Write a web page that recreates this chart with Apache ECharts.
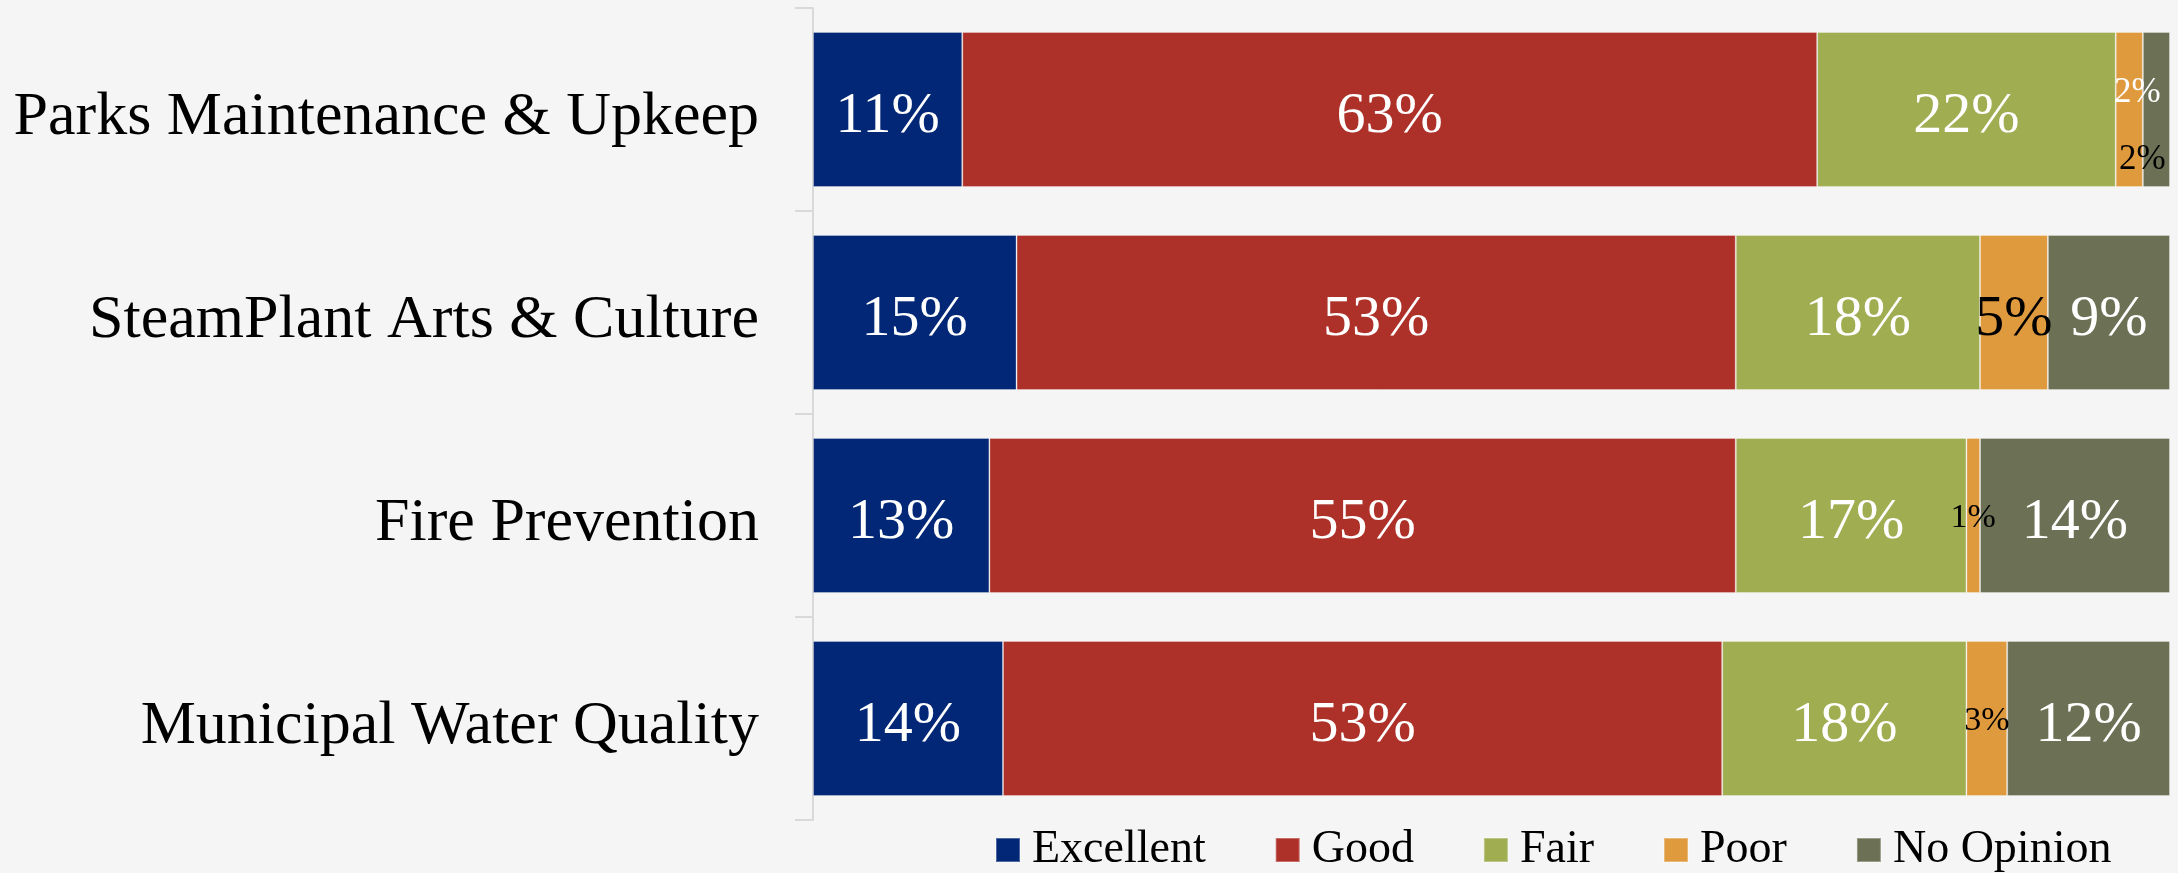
<!DOCTYPE html>
<html>
<head>
<meta charset="utf-8">
<title>City services ratings</title>
<script src="https://cdn.jsdelivr.net/npm/echarts@6/dist/echarts.min.js"></script>
<style>
    html,body{margin:0;padding:0;background:#f5f5f5;}
    #main{width:2178px;height:873px;}
</style>
</head>
<body>
<div id="main"></div>
<script>
// data (percent)
var categories = ['Parks Maintenance & Upkeep', 'SteamPlant Arts & Culture', 'Fire Prevention', 'Municipal Water Quality'];
var seriesNames = ['Excellent', 'Good', 'Fair', 'Poor', 'No Opinion'];
var excellent = [11, 15, 13, 14];
var good = [63, 53, 55, 53];
var fair = [22, 18, 17, 18];
var poor = [2, 5, 1, 3];
var noOpinion = [2, 9, 14, 12];

var colors = ['#012776', '#ae3129', '#a0ad50', '#e09a3e', '#6c7155'];
var fontName = '"Liberation Serif", "DejaVu Serif", serif';

// labels that don't fit inside their bar get their own style
var labelFix = {
    'Poor': {
        0: {fontSize: 35, color: '#fff', offset: [8, -17]},
        1: {color: '#000'},
        2: {fontSize: 34, color: '#000', offset: [0, 3]},
        3: {fontSize: 34, color: '#000', offset: [0, 3]}
    },
    'No Opinion': {
        0: {fontSize: 35, color: '#000', offset: [-14, 50]}
    }
};

function makeSeries(name, values) {
    var data = [];
    for (var i = 0; i < values.length; i++) {
        var item = {value: values[i]};
        if (labelFix[name] && labelFix[name][i]) {
            item.label = labelFix[name][i];
        }
        data.push(item);
    }
    return {
        name: name,
        type: 'bar',
        stack: 'total',
        barCategoryGap: '23.6%',
        itemStyle: {
            borderColor: 'rgba(255,255,255,0.3)',
            borderWidth: 1
        },
        label: {
            show: true,
            position: 'inside',
            formatter: '{c}%',
            color: '#fff',
            fontSize: 58,
            fontFamily: fontName,
            offset: [0, 7]
        },
        data: data
    };
}

var myChart = echarts.init(document.getElementById('main'));
var option = {
    backgroundColor: '#f5f5f5',
    color: colors,
    animation: false,
    grid: {
        left: 813,
        right: 8,
        top: 8,
        bottom: 53
    },
    legend: {
        left: 995,
        top: 827,
        padding: 0,
        itemWidth: 24,
        itemHeight: 24,
        itemGap: 69,
        icon: 'rect',
        textStyle: {
            fontSize: 46,
            color: '#000',
            fontFamily: fontName,
            padding: [0, 0, 0, 7]
        },
        data: seriesNames
    },
    xAxis: {
        type: 'value',
        min: 0,
        max: 100,
        show: false
    },
    yAxis: {
        type: 'category',
        inverse: true,
        data: categories,
        axisLine: {
            show: true,
            lineStyle: {color: '#d9d9d9', width: 2}
        },
        axisTick: {
            show: true,
            length: 18,
            lineStyle: {color: '#d9d9d9', width: 2}
        },
        axisLabel: {
            margin: 54,
            color: '#000',
            formatter: function(v){
                return '{c|' + v + '}';
            },
            rich: {
                // push the text a bit lower, like the original
                c: {
                    fontSize: 62,
                    fontFamily: fontName,
                    color: '#000',
                    padding: [16, 0, 0, 0]
                }
            }
        }
    },
    series: [
        makeSeries('Excellent', excellent),
        makeSeries('Good', good),
        makeSeries('Fair', fair),
        makeSeries('Poor', poor),
        makeSeries('No Opinion', noOpinion)
    ]
};
myChart.setOption(option);
</script>
</body>
</html>
